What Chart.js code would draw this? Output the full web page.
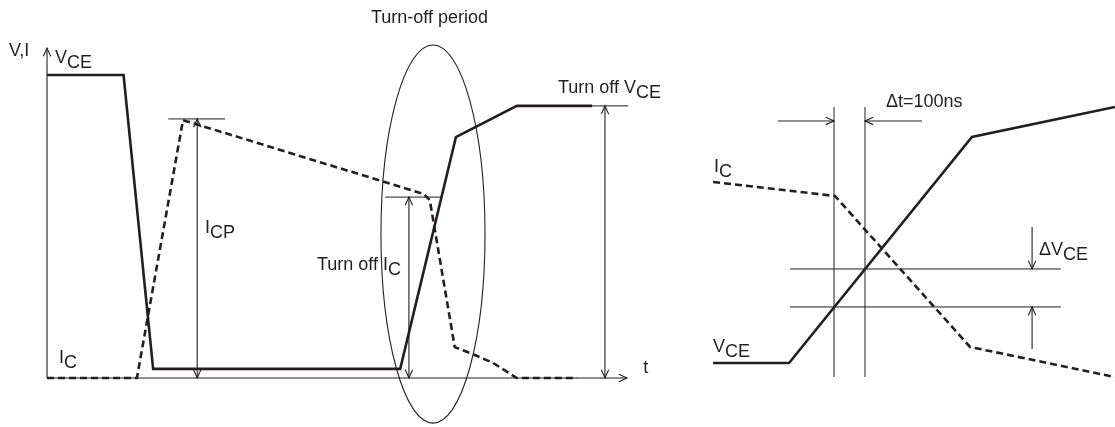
<!DOCTYPE html>
<html>
<head>
<meta charset="utf-8">
<script src="https://cdn.jsdelivr.net/npm/chart.js@4/dist/chart.umd.min.js"></script>
<style>
  html, body { margin: 0; padding: 0; background: #fff; }
  #wrap { position: relative; width: 1115px; height: 427px; overflow: hidden; }
  #left { position: absolute; left: 0; top: 0; }
  #right { position: absolute; left: 690px; top: 0; }
</style>
</head>
<body>
<div id="wrap">
  <canvas id="left" width="690" height="427"></canvas>
  <canvas id="right" width="425" height="427"></canvas>
</div>
<script>
// ---- left panel: time t (arb. units), level normalised to V_CE off-state = 1
const vceTime  = [0, 1.32, 1.83, 6.09, 7.05, 8.10, 9.40];
const vceLevel = [1.0, 1.0, 0.03, 0.03, 0.795, 0.898, 0.898];
const icTime   = [0, 1.55, 2.345, 6.50, 6.60, 7.03, 7.29, 7.69, 8.10, 9.14];
const icLevel  = [0, 0, 0.851, 0.607, 0.587, 0.102, 0.083, 0.050, 0, 0];

// guide lines [t0, t1, level]
const leftGuides = [
  [2.09, 3.07, 0.855],   // I_CP
  [5.83, 6.81, 0.597],   // turn off I_C
  [9.40, 10.02, 0.898]   // turn off V_CE
];
// arrows [t0, L0, t1, L1, double-headed]
const leftArrows = [
  [0, 0, 0, 1.089, false],
  [0, 0, 10, 0, false],
  [2.59, 0, 2.59, 0.855, true],
  [6.24, 0, 6.24, 0.597, true],
  [9.62, 0, 9.62, 0.898, true]
];
// turn-off period ellipse [t, L, half-width t, half-height L]
const offEllipse = [6.655, 0.475, 0.897, 0.624];
// labels [text, subscript, t, L, align]
const leftLabels = [
  ['Turn-off period', '', 6.595, 1.172, 'center'],
  ['V,I', '', -0.655, 1.063, 'left'],
  ['V', 'CE', 0.138, 1.040, 'left'],
  ['I', 'C', 0.207, 0.0495, 'left'],
  ['I', 'CP', 2.724, 0.4785, 'left'],
  ['Turn off I', 'C', 6.103, 0.356, 'right'],
  ['Turn off V', 'CE', 8.81, 0.941, 'left'],
  ['t', '', 10.28, 0.0165, 'left']
];

// ---- right panel: time in ns (0 = first marker), level in % of knee V_CE
const vceNs    = [-390, -145, 445, 906];
const vcePct   = [0, 0, 100, 113.3];
const icNs     = [-390, 3, 439, 906];
const icPct    = [80.1, 73.9, 7.1, -6.2];
const markNs   = [0, 100];
const markPct  = [41.6, 24.8];
const rightArrows = [
  [-181, 107.1, 0, 107.1, false],
  [284, 107.1, 100, 107.1, false],
  [639, 60.2, 639, 41.6, false],
  [639, 6.2, 639, 24.8, false]
];
const rightLabels = [
  ['\u0394t=100ns', '', 167.7, 113.3, 'left'],
  ['I', 'C', -387, 84.5, 'left'],
  ['\u0394V', 'CE', 661, 47.8, 'left'],
  ['V', 'CE', -390, 4.87, 'left']
];

const INK = '#231f20';
const FONT = '18px "Liberation Sans", Arial, sans-serif';

function pts(xs, ys) {
  return xs.map((x, i) => ({ x: x, y: ys[i] }));
}

function solid(data) {
  return { data: data, borderColor: INK, borderWidth: 2.6, pointRadius: 0, tension: 0, fill: false };
}
function dashed(data) {
  return { data: data, borderColor: INK, borderWidth: 2.6, borderDash: [7, 4], pointRadius: 0, tension: 0, fill: false };
}
function thin(data) {
  return { data: data, borderColor: INK, borderWidth: 1, pointRadius: 0, tension: 0, fill: false };
}

function drawArrow(ctx, x0, y0, x1, y1, both) {
  ctx.beginPath();
  ctx.moveTo(x0, y0);
  ctx.lineTo(x1, y1);
  ctx.stroke();
  const head = (xa, ya, xb, yb) => {
    const a = Math.atan2(yb - ya, xb - xa);
    const len = 9, spread = 0.42;
    ctx.beginPath();
    ctx.moveTo(xb - len * Math.cos(a - spread), yb - len * Math.sin(a - spread));
    ctx.lineTo(xb, yb);
    ctx.lineTo(xb - len * Math.cos(a + spread), yb - len * Math.sin(a + spread));
    ctx.stroke();
  };
  head(x0, y0, x1, y1);
  if (both) head(x1, y1, x0, y0);
}

function drawLabel(ctx, text, sub, x, y, align) {
  ctx.font = FONT;
  ctx.textBaseline = 'alphabetic';
  ctx.textAlign = 'left';
  const w = ctx.measureText(text).width + (sub ? ctx.measureText(sub).width : 0);
  let left = x;
  if (align === 'center') left = x - w / 2;
  if (align === 'right') left = x - w;
  ctx.fillText(text, left, y);
  if (sub) ctx.fillText(sub, left + ctx.measureText(text).width, y + 5);
}

const sketchPlugin = {
  id: 'sketch',
  afterDatasetsDraw(chart, args, opts) {
    const ctx = chart.ctx;
    const xs = chart.scales.x, ys = chart.scales.y;
    ctx.save();
    ctx.strokeStyle = INK;
    ctx.fillStyle = INK;
    ctx.lineWidth = 1.1;
    (opts.arrows || []).forEach(a => {
      drawArrow(ctx, xs.getPixelForValue(a[0]), ys.getPixelForValue(a[1]),
        xs.getPixelForValue(a[2]), ys.getPixelForValue(a[3]), a[4]);
    });
    if (opts.ellipse) {
      const e = opts.ellipse;
      const cx = xs.getPixelForValue(e[0]), cy = ys.getPixelForValue(e[1]);
      const rx = Math.abs(xs.getPixelForValue(e[0] + e[2]) - cx);
      const ry = Math.abs(ys.getPixelForValue(e[1] + e[3]) - cy);
      ctx.beginPath();
      ctx.ellipse(cx, cy, rx, ry, 0, 0, Math.PI * 2);
      ctx.stroke();
    }
    (opts.labels || []).forEach(l => {
      drawLabel(ctx, l[0], l[1], xs.getPixelForValue(l[2]), ys.getPixelForValue(l[3]), l[4]);
    });
    ctx.restore();
  }
};

function makePanel(id, datasets, xMin, xMax, yMin, yMax, sketch) {
  return new Chart(document.getElementById(id), {
    type: 'line',
    data: { datasets: datasets },
    plugins: [sketchPlugin],
    options: {
      responsive: false,
      animation: false,
      layout: { padding: 0 },
      parsing: true,
      scales: {
        x: { type: 'linear', min: xMin, max: xMax, display: false },
        y: { type: 'linear', min: yMin, max: yMax, display: false }
      },
      plugins: {
        legend: { display: false },
        tooltip: { enabled: false },
        sketch: sketch
      }
    }
  });
}

// left: 58 px per t unit from x=47, 303 px per level unit from y=378
const leftSets = [
  solid(pts(vceTime, vceLevel)),
  dashed(pts(icTime, icLevel))
].concat(leftGuides.map(g => thin([{ x: g[0], y: g[2] }, { x: g[1], y: g[2] }])));

makePanel('left', leftSets, -47 / 58, 643 / 58, -49 / 303, 378 / 303,
  { arrows: leftArrows, ellipse: offEllipse, labels: leftLabels });

// right: 0.31 px per ns from x=834 (panel x=144), 2.26 px per % from y=363
const rightSets = [
  solid(pts(vceNs, vcePct)),
  dashed(pts(icNs, icPct))
]
  .concat(markNs.map(t => thin([{ x: t, y: -6.2 }, { x: t, y: 113.3 }])))
  .concat(markPct.map(v => thin([{ x: -142, y: v }, { x: 732, y: v }])));

makePanel('right', rightSets, -144 / 0.31, 281 / 0.31, -64 / 2.26, 363 / 2.26,
  { arrows: rightArrows, labels: rightLabels });
</script>
</body>
</html>
